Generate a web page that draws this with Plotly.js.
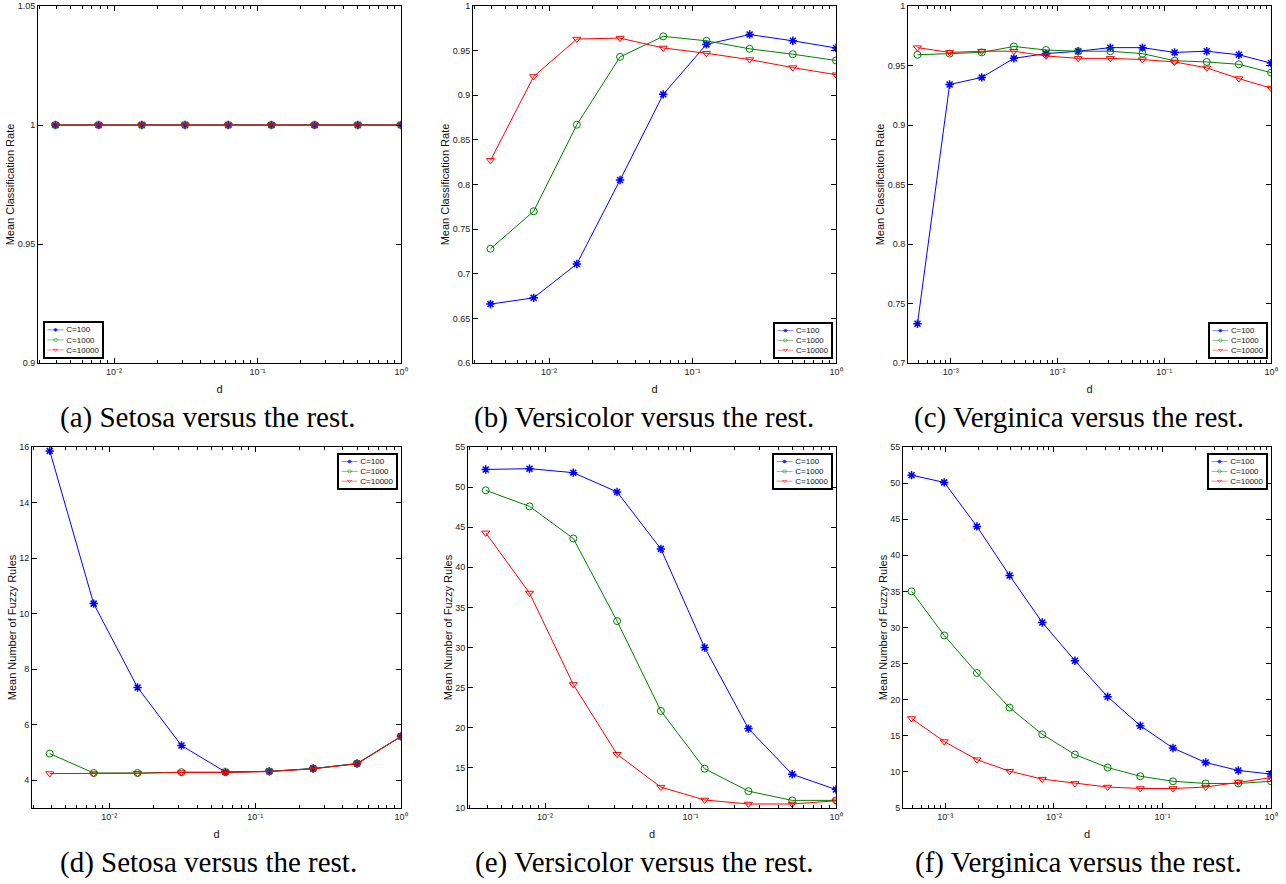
<!DOCTYPE html>
<html><head><meta charset="utf-8">
<script src="https://cdn.plot.ly/plotly-3.0.1.min.js"></script>
<style>html,body{margin:0;padding:0;background:#fff}#chart{width:1286px;height:884px}</style>
</head><body><div id="chart"></div>
<script>
// ---------- data ----------
const seriesNames = ["C=100", "C=1000", "C=10000"];
const d9 = [0.00390625, 0.0078125, 0.015625, 0.03125, 0.0625, 0.125, 0.25, 0.5, 1];
const d12 = [0.00048828125, 0.0009765625, 0.001953125, 0.00390625, 0.0078125, 0.015625, 0.03125, 0.0625, 0.125, 0.25, 0.5, 1];

// (a) Setosa – mean classification rate
const rateSetosaC100 = [1, 1, 1, 1, 1, 1, 1, 1, 1];
const rateSetosaC1000 = [1, 1, 1, 1, 1, 1, 1, 1, 1];
const rateSetosaC10000 = [1, 1, 1, 1, 1, 1, 1, 1, 1];
// (b) Versicolor – mean classification rate
const rateVersiC100 = [0.666, 0.673, 0.711, 0.805, 0.901, 0.957, 0.968, 0.961, 0.953];
const rateVersiC1000 = [0.728, 0.770, 0.867, 0.943, 0.966, 0.961, 0.952, 0.946, 0.939];
const rateVersiC10000 = [0.827, 0.921, 0.963, 0.964, 0.953, 0.947, 0.940, 0.931, 0.923];
// (c) Verginica – mean classification rate
const rateVergC100 = [0.733, 0.934, 0.940, 0.956, 0.960, 0.962, 0.965, 0.965, 0.961, 0.962, 0.959, 0.952];
const rateVergC1000 = [0.959, 0.960, 0.961, 0.966, 0.963, 0.962, 0.962, 0.960, 0.954, 0.953, 0.951, 0.944];
const rateVergC10000 = [0.965, 0.961, 0.962, 0.962, 0.958, 0.956, 0.956, 0.955, 0.953, 0.948, 0.939, 0.931];
// (d) Setosa – mean number of fuzzy rules
const rulesSetosaC100 = [15.86, 10.36, 7.34, 5.25, 4.30, 4.32, 4.42, 4.60, 5.58];
const rulesSetosaC1000 = [4.96, 4.26, 4.26, 4.29, 4.29, 4.32, 4.42, 4.60, 5.58];
const rulesSetosaC10000 = [4.24, 4.24, 4.25, 4.28, 4.28, 4.31, 4.41, 4.59, 5.57];
// (e) Versicolor – mean number of fuzzy rules
const rulesVersiC100 = [52.2, 52.3, 51.8, 49.4, 42.3, 30.0, 19.9, 14.2, 12.3];
const rulesVersiC1000 = [49.6, 47.6, 43.6, 33.3, 22.1, 14.9, 12.1, 10.95, 10.95];
const rulesVersiC10000 = [44.3, 36.8, 25.4, 16.7, 12.6, 11.0, 10.5, 10.5, 10.9];
// (f) Verginica – mean number of fuzzy rules
const rulesVergC100 = [51.1, 50.1, 44.0, 37.2, 30.7, 25.4, 20.4, 16.4, 13.3, 11.3, 10.2, 9.7];
const rulesVergC1000 = [35.0, 28.9, 23.7, 18.9, 15.2, 12.4, 10.6, 9.4, 8.7, 8.4, 8.4, 8.7];
const rulesVergC10000 = [17.4, 14.2, 11.7, 10.1, 9.0, 8.4, 7.9, 7.7, 7.7, 7.9, 8.6, 9.2];

// tick labels
const xTickVals3 = [0.01, 0.1, 1];
const xTickText3 = ["10\u207B\u00B2", "10\u207B\u00B9", "10\u2070"];
const xTickVals4 = [0.001, 0.01, 0.1, 1];
const xTickText4 = ["10\u207B\u00B3", "10\u207B\u00B2", "10\u207B\u00B9", "10\u2070"];
const xTitle = "d";
const yTitleRate = "Mean Classification Rate";
const yTitleRules = "Mean Number of Fuzzy Rules";
const captions = ["(a) Setosa versus the rest.", "(b) Versicolor versus the rest.", "(c) Verginica versus the rest.",
                  "(d) Setosa versus the rest.", "(e) Versicolor versus the rest.", "(f) Verginica versus the rest."];

// ---------- styling / layout ----------
const W = 1286, H = 884;
const colors = ["#0000ff", "#008000", "#ff0000"];
const symbols = ["asterisk-open", "circle-open", "triangle-down-open"];
const panels = [
  {x: d9,  ys: [rateSetosaC100, rateSetosaC1000, rateSetosaC10000], l: 38, r: 401, t: 6, b: 363, yr: [0.9, 1.05], dt: 0.05, xr: [-2.53, 0], tv: xTickVals3, tt: xTickText3, yt: yTitleRate, box: [42, 320, 61, 38], side: "left"},
  {x: d9,  ys: [rateVersiC100, rateVersiC1000, rateVersiC10000], l: 473, r: 836, t: 6, b: 363, yr: [0.6, 1], dt: 0.05, xr: [-2.53, 0], tv: xTickVals3, tt: xTickText3, yt: yTitleRate, box: [772, 321, 60, 37], side: "left"},
  {x: d12, ys: [rateVergC100, rateVergC1000, rateVergC10000], l: 908, r: 1271, t: 6, b: 363, yr: [0.7, 1], dt: 0.05, xr: [-3.40, 0], tv: xTickVals4, tt: xTickText4, yt: yTitleRate, box: [1207, 321, 60, 37], side: "right"},
  {x: d9,  ys: [rulesSetosaC100, rulesSetosaC1000, rulesSetosaC10000], l: 32, r: 401, t: 447, b: 808, yr: [3, 16], dt: 2, xr: [-2.53, 0], tv: xTickVals3, tt: xTickText3, yt: yTitleRules, box: [336, 452, 61, 37], side: "left"},
  {x: d9,  ys: [rulesVersiC100, rulesVersiC1000, rulesVersiC10000], l: 468, r: 836, t: 447, b: 808, yr: [10, 55], dt: 5, xr: [-2.53, 0], tv: xTickVals3, tt: xTickText3, yt: yTitleRules, box: [771, 452, 61, 37], side: "left"},
  {x: d12, ys: [rulesVergC100, rulesVergC1000, rulesVergC10000], l: 903, r: 1271, t: 447, b: 808, yr: [5, 55], dt: 5, xr: [-3.39, 0], tv: xTickVals4, tt: xTickText4, yt: yTitleRules, box: [1206, 452, 61, 37], side: "right"}
];
const captionCenters = [[208, 417], [644, 417], [1079, 417], [208, 862], [644, 862], [1078, 862]];

const tickFont = {family: "Liberation Sans, Arial, sans-serif", size: 9, color: "#222"};
const titleFont = {family: "Liberation Sans, Arial, sans-serif", size: 11, color: "#111"};
const legBorder = 3.5;

const data = [];
const layout = {
  width: W, height: H, margin: {l: 0, r: 0, t: 0, b: 0, autoexpand: false},
  paper_bgcolor: "#fff", plot_bgcolor: "#fff", showlegend: true,
  annotations: [], hovermode: false
};

panels.forEach((p, i) => {
  const n = i + 1;
  const xa = "xaxis" + (n === 1 ? "" : n), ya = "yaxis" + (n === 1 ? "" : n);
  const xr = "x" + (n === 1 ? "" : n), yr = "y" + (n === 1 ? "" : n);
  const legName = "legend" + (n === 1 ? "" : n);
  p.ys.forEach((ys, k) => {
    data.push({
      x: p.x, y: ys, xaxis: xr, yaxis: yr, name: seriesNames[k], legend: legName,
      type: "scatter", mode: "lines+markers",
      line: {color: colors[k], width: 1},
      marker: {symbol: symbols[k], size: 7, color: colors[k], line: {color: colors[k], width: k === 0 ? 1.5 : 1}}
    });
  });
  layout[xa] = {
    type: "log", domain: [p.l / W, p.r / W], range: p.xr, anchor: yr,
    tickmode: "array", tickvals: p.tv, ticktext: p.tt, ticks: "inside", ticklen: 5, tickcolor: "#000",
    minor: {tickmode: "linear", dtick: "D1", ticks: "inside", ticklen: 3, tickcolor: "#000", showgrid: false},
    showline: true, linecolor: "#000", linewidth: 1, mirror: "allticks", showgrid: false, zeroline: false,
    tickfont: tickFont, ticklabeloverflow: "allow",
    title: {text: xTitle, font: titleFont, standoff: 9}, automargin: false
  };
  layout[ya] = {
    domain: [1 - p.b / H, 1 - p.t / H], range: p.yr, dtick: p.dt, tick0: 0, anchor: xr,
    ticks: "inside", ticklen: 5, tickcolor: "#000",
    showline: true, linecolor: "#000", linewidth: 1, mirror: "allticks", showgrid: false, zeroline: false,
    tickfont: tickFont, ticklabeloverflow: "allow",
    title: {text: p.yt, font: titleFont, standoff: 0}, automargin: false
  };
  layout[legName] = {
    bgcolor: "#fff", bordercolor: "#000", borderwidth: legBorder,
    font: {family: "Liberation Sans, Arial, sans-serif", size: 15, color: "#111"},
    itemwidth: 30, tracegroupgap: 0, itemclick: false,
    x: (p.side === "left" ? p.box[0] : p.box[0] + p.box[2]) / W, xanchor: p.side,
    y: 1 - p.box[1] / H, yanchor: "top"
  };
  layout.annotations.push({
    text: captions[i], xref: "paper", yref: "paper",
    x: captionCenters[i][0] / W, y: 1 - captionCenters[i][1] / H, xanchor: "center", yanchor: "middle",
    showarrow: false, font: {family: "Liberation Serif, serif", size: 29, color: "#000"}
  });
});

Plotly.newPlot("chart", data, layout, {staticPlot: true}).then(gd => {
  // fit each library-drawn legend into the compact box size of the reference
  panels.forEach((p, i) => {
    const cls = "legend" + (i === 0 ? "" : (i + 1));
    const g = gd.querySelector("g." + cls);
    if (!g) return;
    const bg = g.querySelector("rect.bg");
    if (!bg) return;
    const bw = parseFloat(bg.getAttribute("width")) + legBorder;
    const bh = parseFloat(bg.getAttribute("height")) + legBorder;
    const sx = p.box[2] / bw, sy = p.box[3] / bh;
    g.setAttribute("transform", "translate(" + (p.box[0] + 1) + "," + (p.box[1] + 1) + ") scale(" + sx.toFixed(4) + "," + sy.toFixed(4) + ")");
  });
});
</script>
</body></html>
